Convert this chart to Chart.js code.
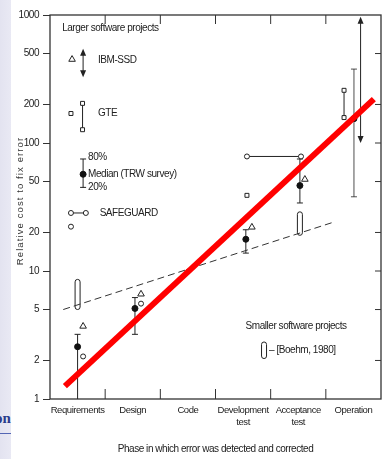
<!DOCTYPE html>
<html>
<head>
<meta charset="utf-8">
<script src="https://cdn.jsdelivr.net/npm/chart.js@4.4.1/dist/chart.umd.min.js"></script>
<style>
  html, body { margin: 0; padding: 0; }
  body {
    width: 390px; height: 459px; position: relative; overflow: hidden;
    background: linear-gradient(to right, #e3e3f0 0px, #e9e9f4 11px, #ffffff 11px);
  }
  #chart { position: absolute; left: 0; top: 0; }
  #side { position: absolute; left: -5px; top: 410px; font: bold 15px 'Liberation Serif', serif; color: #2b3c8c; }
  #sideLine { position: absolute; left: 0; top: 433px; width: 11px; height: 1px; background: #5466b4; }
</style>
</head>
<body>
<div id="side">on</div>
<div id="sideLine"></div>
<canvas id="chart" width="390" height="459"></canvas>
<script>
// Phases on the x axis, cost ticks on the y axis
const phases = ['Requirements', 'Design', 'Code', ['Development', 'test'], ['Acceptance', 'test'], 'Operation'];
const costTicks = [1, 2, 5, 10, 20, 50, 100, 200, 500, 1000];

// red trend line (larger projects) and dashed line (smaller projects)
const trendX = [-0.23, 5.37];
const trendY = [1.26, 220];
const smallX = [-0.26, 4.63];
const smallY = [5, 24];

// TRW survey: median with 20% / 80% range (last one is the key)
const trwX = [0, 1.04, 3.05, 4.03, 5.01, 0.1];
const trwMedian = [2.56, 5.1, 17.7, 46.5, 155, 57];
const trwLow = [1, 3.2, 13.8, 34, 38, 45];
const trwHigh = [3.2, 6.2, 21, 75, 378, 75];

// IBM-SSD triangles and ranges
const ibmX = [-0.1, 0.1, 1.15, 3.16, 4.12];
const ibmY = [450, 3.7, 6.6, 22, 52];
const ibmRangeX = [0.1, 5.13];
const ibmRangeLow = [327, 100];
const ibmRangeHigh = [546, 970];

// GTE squares: single ones and connected pairs
const gteX = [-0.12, 3.07];
const gteY = [170, 39];
const gtePairX = [0.09, 4.83];
const gtePairLow = [127, 158];
const gtePairHigh = [204, 258];

// SAFEGUARD circles: single ones and horizontal connected pairs
const sgX = [-0.12, 0.1, 1.15];
const sgY = [22.2, 2.15, 5.56];
const sgPairFrom = [-0.12, 3.07];
const sgPairTo = [0.15, 4.05];
const sgPairY = [28.4, 78.5];

// Boehm 1980 smaller projects (capsules), last one is the key
const boehmX = [0, 4.03, 3.38];
const boehmLow = [5, 19, 2.07];
const boehmHigh = [8.6, 29, 2.79];

// code phase meeting point
const codeX = [2];
const codeY = [10];

const font = "'Liberation Sans', Arial, sans-serif";
const ink = '#222';
const tight = '-0.45px';

function pts(xs, ys) {
  return xs.map((x, i) => ({ x: x, y: ys[i] }));
}

// labels written on the chart, anchored in data units
const notes = [
  ['Larger software projects', -0.28, 790, 'left'],
  ['IBM-SSD', 0.37, 440, 'left'],
  ['GTE', 0.37, 170, 'left'],
  ['80%', 0.19, 78, 'left'],
  ['Median (TRW survey)', 0.19, 57, 'left'],
  ['20%', 0.19, 45, 'left'],
  ['SAFEGUARD', 0.4, 28.4, 'left'],
  ['Smaller software projects', 3.96, 3.7, 'center'],
  ['\u2013 [Boehm, 1980]', 3.47, 2.4, 'left']
];

const marks = {
  id: 'marks',
  beforeDraw(chart) {
    // the scanned lettering is condensed
    chart.ctx.letterSpacing = tight;
  },
  afterDraw(chart) {
    const c = chart.ctx;
    const a = chart.chartArea;
    // y axis title, spaced out as in the scan
    c.save();
    c.letterSpacing = '1.1px';
    c.fillStyle = '#333';
    c.font = '9.5px ' + font;
    c.textAlign = 'center';
    c.textBaseline = 'middle';
    c.translate(20, (a.top + a.bottom) / 2 - 6);
    c.rotate(-Math.PI / 2);
    c.fillText('Relative cost to fix error', 0, 0);
    c.restore();
    c.letterSpacing = '0px';
  },
  beforeDatasetsDraw(chart) {
    const c = chart.ctx;
    const xs = chart.scales.x;
    const ys = chart.scales.y;
    const a = chart.chartArea;
    c.save();

    // frame
    c.strokeStyle = '#333';
    c.lineWidth = 1.3;
    c.strokeRect(a.left, a.top, a.right - a.left, a.bottom - a.top);

    // inward ticks: phase boundaries top / bottom, cost ticks right
    c.lineWidth = 1;
    for (let i = 0; i < phases.length - 1; i++) {
      const px = xs.getPixelForValue(i + 0.5);
      c.beginPath();
      c.moveTo(px, a.bottom); c.lineTo(px, a.bottom - 10);
      c.moveTo(px, a.top); c.lineTo(px, a.top + 9);
      c.stroke();
    }
    costTicks.slice(1, -1).forEach(v => {
      const py = ys.getPixelForValue(v);
      c.beginPath();
      c.moveTo(a.right, py); c.lineTo(a.right - 6, py);
      c.stroke();
    });

    // TRW ranges
    c.strokeStyle = ink;
    trwX.forEach((x, i) => {
      const px = xs.getPixelForValue(x);
      const lo = ys.getPixelForValue(trwLow[i]);
      const hi = ys.getPixelForValue(trwHigh[i]);
      c.lineWidth = i === 4 ? 0.8 : 1;
      c.beginPath();
      c.moveTo(px, lo); c.lineTo(px, hi);
      c.moveTo(px - 3, hi); c.lineTo(px + 3, hi);
      if (trwLow[i] > 1) { c.moveTo(px - 3, lo); c.lineTo(px + 3, lo); }
      c.stroke();
    });

    // IBM-SSD double arrows
    c.fillStyle = ink;
    c.lineWidth = 1;
    ibmRangeX.forEach((x, i) => {
      const px = xs.getPixelForValue(x);
      const lo = ys.getPixelForValue(ibmRangeLow[i]);
      const hi = ys.getPixelForValue(ibmRangeHigh[i]);
      c.beginPath();
      c.moveTo(px, lo - 5); c.lineTo(px, hi + 5);
      c.stroke();
      c.beginPath();
      c.moveTo(px, hi); c.lineTo(px - 3, hi + 7); c.lineTo(px + 3, hi + 7); c.closePath();
      c.moveTo(px, lo); c.lineTo(px - 3, lo - 7); c.lineTo(px + 3, lo - 7); c.closePath();
      c.fill();
    });

    // Boehm capsules
    c.fillStyle = '#fff';
    boehmX.forEach((x, i) => {
      const px = xs.getPixelForValue(x);
      const lo = ys.getPixelForValue(boehmLow[i]);
      const hi = ys.getPixelForValue(boehmHigh[i]);
      c.beginPath();
      c.roundRect(px - 2.5, hi, 5, lo - hi, 2.5);
      c.fill();
      c.stroke();
    });

    // notes
    c.fillStyle = ink;
    c.font = '10px ' + font;
    c.textBaseline = 'middle';
    notes.forEach(n => {
      c.textAlign = n[3];
      c.fillText(n[0], xs.getPixelForValue(n[1]), ys.getPixelForValue(n[2]));
    });
    c.restore();
  }
};

const openPoint = {
  showLine: false,
  backgroundColor: '#fff',
  borderColor: ink,
  borderWidth: 1
};

const datasets = [
  { data: pts(trendX, trendY), showLine: true, borderColor: '#ff0000', borderWidth: 6, pointRadius: 0, order: 0 },
  { data: pts(smallX, smallY), showLine: true, borderColor: '#333', borderWidth: 1, borderDash: [7, 4], pointRadius: 0, order: 9 },
  { data: pts(trwX, trwMedian), showLine: false, pointStyle: 'circle', pointRadius: 3, backgroundColor: '#111', borderColor: '#111', order: 2 },
  { data: pts(codeX, codeY), showLine: false, pointRadius: 1.8, backgroundColor: '#111', borderColor: '#111', order: 2 },
  Object.assign({ data: pts(ibmX, ibmY), pointStyle: 'triangle', pointRadius: 3.8, order: 2 }, openPoint),
  Object.assign({ data: pts(gteX, gteY), pointStyle: 'rect', pointRadius: 2.8, order: 2 }, openPoint),
  Object.assign({ data: pts(sgX, sgY), pointStyle: 'circle', pointRadius: 2.5, order: 2 }, openPoint)
];
gtePairX.forEach((x, i) => {
  datasets.push(Object.assign({}, openPoint, {
    data: [{ x: x, y: gtePairLow[i] }, { x: x, y: gtePairHigh[i] }],
    showLine: true, pointStyle: 'rect', pointRadius: 2.8, order: 3
  }));
});
sgPairY.forEach((y, i) => {
  datasets.push(Object.assign({}, openPoint, {
    data: [{ x: sgPairFrom[i], y: y }, { x: sgPairTo[i], y: y }],
    showLine: true, pointStyle: 'circle', pointRadius: 2.5, order: 3
  }));
});

new Chart(document.getElementById('chart'), {
  type: 'scatter',
  data: { datasets: datasets },
  options: {
    responsive: false,
    animation: false,
    devicePixelRatio: 1,
    layout: { padding: { top: 15, right: 9, left: 0, bottom: 0 } },
    plugins: { legend: { display: false }, tooltip: { enabled: false } },
    scales: {
      x: {
        type: 'linear', min: -0.5, max: 5.5,
        afterBuildTicks: axis => { axis.ticks = phases.map((p, i) => ({ value: i })); },
        afterFit: axis => { axis.height = 60; },
        ticks: {
          callback: v => phases[v], autoSkip: false, maxRotation: 0,
          padding: 6, color: ink, font: { family: font, size: 9.5 }
        },
        grid: { drawOnChartArea: false, drawTicks: false },
        border: { display: false },
        title: {
          display: true, text: 'Phase in which error was detected and corrected',
          color: ink, font: { family: font, size: 10 }, padding: { top: 0, bottom: 4 }
        }
      },
      y: {
        type: 'logarithmic', min: 1, max: 1000,
        afterBuildTicks: axis => { axis.ticks = costTicks.map(v => ({ value: v })); },
        afterFit: axis => { axis.width = 50; },
        ticks: {
          callback: v => String(v), autoSkip: false,
          padding: 4, color: ink, font: { family: font, size: 10 }
        },
        grid: { drawOnChartArea: false, drawTicks: true, tickLength: 7, color: '#333' },
        border: { display: false }
      }
    }
  },
  plugins: [marks]
});
</script>
</body>
</html>
